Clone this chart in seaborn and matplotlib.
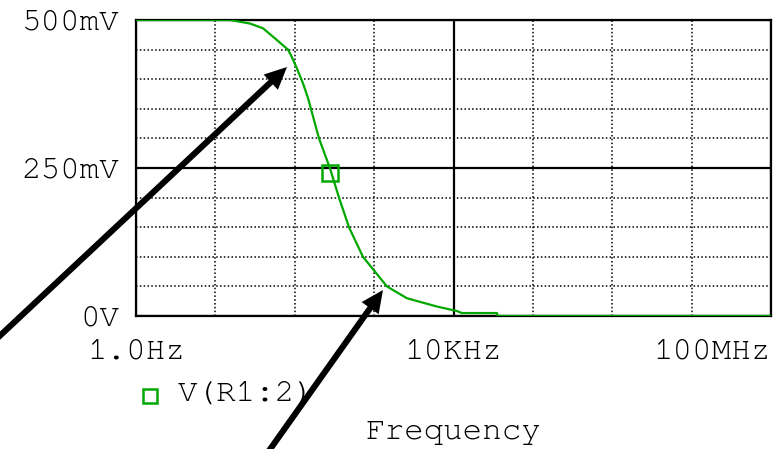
import matplotlib
matplotlib.use("Agg")
import matplotlib.pyplot as plt
import seaborn as sns
import pandas as pd
from matplotlib.lines import Line2D
from matplotlib.patches import FancyArrowPatch
from matplotlib.ticker import NullFormatter
from matplotlib import font_manager

# ---- data ----
freq_hz = [1, 15.3, 27.3, 39.8, 56.3, 82.1, 91.5, 105.8, 127, 147, 202, 277, 361, 482,
           723, 1449, 2588, 6180, 11040, 12760, 35200, 36250, 1e8]
v_mv = [500, 500, 494, 486, 469, 450, 438, 419, 393, 368, 300, 250, 200, 150,
        100, 50, 30, 16, 8.4, 5, 5, 0, 0]
marker_freq_hz = [277]
marker_v_mv = [241]

x_ticks_hz = [1, 1e4, 1e8]
x_tick_labels = ["1.0Hz", "10KHz", "100MHz"]
x_minor_hz = [10, 100, 1e3, 1e5, 1e6, 1e7]
y_ticks_mv = [0, 250, 500]
y_tick_labels = ["0V", "250mV", "500mV"]
y_minor_mv = [50, 100, 150, 200, 300, 350, 400, 450]
series_name = "V(R1:2)"
x_title = "Frequency"

sns.set_style("white")
installed = {f.name for f in font_manager.fontManager.ttflist}
fam = [f for f in ["Courier New", "FreeMono", "Nimbus Mono PS", "Courier",
                   "Liberation Mono", "DejaVu Sans Mono"] if f in installed]
plt.rcParams["font.family"] = fam

GREEN = "#00a800"
FS = 23.5
W, H = 784, 449

fig = plt.figure(figsize=(W / 100, H / 100), dpi=100)
ax = fig.add_axes([136 / W, 1 - 316 / H, (771 - 136) / W, 296 / H])

df = pd.DataFrame({"f": freq_hz, "v": v_mv})
sns.lineplot(data=df, x="f", y="v", ax=ax, color=GREEN, lw=1.6, sort=False, zorder=5)
ax.plot(marker_freq_hz, marker_v_mv, ls="none", marker="s", ms=11, mfc="none",
        mec=GREEN, mew=1.8, zorder=6)

ax.set_xscale("log")
ax.set_xlim(1, 1e8)
ax.set_ylim(0, 500)

ax.set_xticks(x_ticks_hz)
ax.set_xticklabels(x_tick_labels)
ax.set_xticks(x_minor_hz, minor=True)
ax.xaxis.set_minor_formatter(NullFormatter())
ax.set_yticks(y_ticks_mv)
ax.set_yticklabels(y_tick_labels)
ax.set_yticks(y_minor_mv, minor=True)
ax.yaxis.set_minor_formatter(NullFormatter())

ax.grid(which="major", color="black", lw=1.6, ls="-")
ax.grid(which="minor", color="black", lw=1.1, ls=(0, (1, 1.5)))
ax.set_axisbelow(True)

ax.tick_params(which="minor", length=0)
ax.tick_params(axis="x", which="major", direction="out", length=9, width=1.6,
               colors="black", labelsize=FS, pad=7)
ax.tick_params(axis="y", which="major", direction="out", length=9, width=1.6,
               colors="black", labelsize=FS, pad=3)
ax.get_xticklabels()[-1].set_ha("right")

for s in ax.spines.values():
    s.set_color("black")
    s.set_linewidth(1.6)
    s.set_visible(True)

ax.set_xlabel(x_title, fontsize=FS, color="black")
ax.set_ylabel("")
ax.xaxis.set_label_coords(0.5, (316 - 439) / 296)
ax.xaxis.label.set_va("baseline")

# legend entry
fig.add_artist(Line2D([149.5 / W], [1 - 395.5 / H], transform=fig.transFigure,
                      marker="s", ms=10, mfc="none", mec=GREEN, mew=1.8, ls="none"))
fig.text(178 / W, 1 - 394 / H, series_name, ha="left", va="center", fontsize=FS,
         color="black")

# annotation arrows
def arrow(tail, tip):
    p = FancyArrowPatch(posA=(tail[0] / W, 1 - tail[1] / H), posB=(tip[0] / W, 1 - tip[1] / H),
                        transform=fig.transFigure,
                        arrowstyle="simple,head_length=0.8,head_width=0.75,tail_width=0.22",
                        mutation_scale=20, color="black", lw=0, shrinkA=0, shrinkB=0,
                        zorder=20)
    fig.add_artist(p)

arrow((-10, 345), (287, 67))
arrow((266, 455), (383, 290))

fig.savefig("out.png", dpi=100)
